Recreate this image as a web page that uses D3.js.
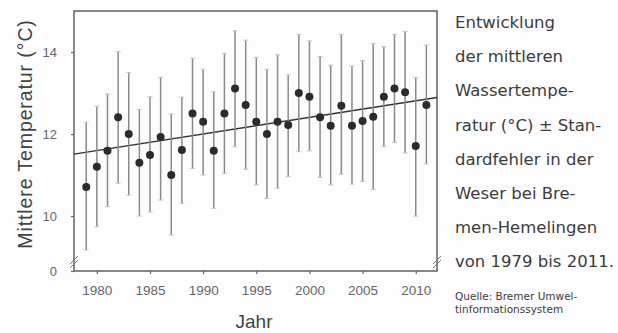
<!DOCTYPE html>
<html>
<head>
<meta charset="utf-8">
<script src="https://cdn.jsdelivr.net/npm/d3@7"></script>
<style>
  html, body { margin: 0; padding: 0; background: #fdfdfd; }
  svg { display: block; }
</style>
</head>
<body>
<svg id="chart" width="618" height="333"></svg>
<script>
// ---- data ----
const years = [1979,1980,1981,1982,1983,1984,1985,1986,1987,1988,1989,1990,1991,1992,1993,1994,1995,1996,1997,1998,1999,2000,2001,2002,2003,2004,2005,2006,2007,2008,2009,2010,2011];
const means = [10.71,11.20,11.59,12.41,12.00,11.30,11.49,11.93,11.00,11.61,12.50,12.30,11.59,12.50,13.11,12.71,12.30,12.00,12.30,12.22,13.00,12.91,12.41,12.20,12.69,12.20,12.32,12.42,12.91,13.11,13.02,11.71,12.71];
const upper = [12.29,12.68,12.98,14.01,13.50,12.60,12.91,13.38,12.49,12.90,13.85,13.58,13.03,13.97,14.52,14.29,13.87,13.58,13.93,13.44,14.43,14.27,13.89,13.68,14.43,13.66,13.79,14.21,14.13,14.43,14.50,13.38,14.17];
const lower = [9.17,9.74,10.23,10.80,10.51,10.00,10.10,10.39,9.54,10.31,11.16,11.00,10.19,11.04,11.69,11.14,10.76,10.43,10.68,10.96,11.57,11.59,10.94,10.76,11.02,10.78,10.84,10.65,11.69,11.79,11.54,10.00,11.27];
const trendYears = [1977.85, 2012];
const trendValues = [11.51, 12.89];
const xTicks = [1980,1985,1990,1995,2000,2005,2010];
const yTicks = [0,10,12,14];
const yTitle = "Mittlere Temperatur (°C)";
const xTitle = "Jahr";
const captionLines = ["Entwicklung","der mittleren","Wassertempe-","ratur (°C) ± Stan-","dardfehler in der","Weser bei Bre-","men-Hemelingen","von 1979 bis 2011."];
const sourceLines = ["Quelle: Bremer Umwel-","tinformationssystem"];

// ---- layout ----
const L = 74, R = 437, T = 11, B = 271;
const svg = d3.select("#chart");

const x = d3.scaleLinear().domain([1977.85, 2012]).range([L, R]);
// broken axis: 0 sits at the bottom, linear part from 8.66 to 15
const y = d3.scaleLinear().domain([0, 8.66, 15]).range([B, B, T]);

const data = years.map((yr, i) => ({ yr, m: means[i], hi: upper[i], lo: lower[i] }));

// frame
svg.append("rect")
  .attr("x", L).attr("y", T).attr("width", R - L).attr("height", B - T)
  .attr("fill", "none").attr("stroke", "#555").attr("stroke-width", 1.4);

// axes
const gx = svg.append("g").attr("transform", `translate(0,${B})`)
  .call(d3.axisBottom(x).tickValues(xTicks).tickFormat(d3.format("d")).tickSize(3).tickSizeOuter(0).tickPadding(11));
gx.select(".domain").remove();
gx.selectAll("line").attr("stroke", "#666").attr("stroke-width", 1.2);
gx.selectAll("text").attr("fill", "#666").style("font-family", "Liberation Sans, Arial, sans-serif").style("font-size", "13.5px");

const gy = svg.append("g").attr("transform", `translate(${L},0)`)
  .call(d3.axisLeft(y).tickValues(yTicks).tickFormat(d3.format("d")).tickSize(3).tickSizeOuter(0).tickPadding(14));
gy.select(".domain").remove();
gy.selectAll("line").attr("stroke", "#666").attr("stroke-width", 1.2);
gy.selectAll("text").attr("fill", "#666").style("font-family", "Liberation Sans, Arial, sans-serif").style("font-size", "13px");

// axis break marks
const brk = svg.append("g").attr("stroke", "#777").attr("stroke-width", 1);
[[L, 262], [R, 262]].forEach(([bx, by]) => {
  [-2, 2].forEach(off => {
    brk.append("line").attr("x1", bx - 4).attr("y1", by + off + 4).attr("x2", bx + 4).attr("y2", by + off - 4);
  });
});

// trend line
svg.append("line")
  .attr("x1", x(trendYears[0])).attr("y1", y(trendValues[0]))
  .attr("x2", x(trendYears[1])).attr("y2", y(trendValues[1]))
  .attr("stroke", "#333").attr("stroke-width", 1.4);

// error bars
const eb = svg.append("g");
eb.selectAll("line.bar").data(data).join("line").attr("class", "bar")
  .attr("x1", d => x(d.yr)).attr("x2", d => x(d.yr))
  .attr("y1", d => y(d.hi)).attr("y2", d => y(d.lo))
  .attr("stroke", "#8a8a8a").attr("stroke-width", 1.5);
["hi", "lo"].forEach(k => {
  eb.selectAll("line.cap-" + k).data(data).join("line").attr("class", "cap-" + k)
    .attr("x1", d => x(d.yr) - 2.5).attr("x2", d => x(d.yr) + 2.5)
    .attr("y1", d => y(d[k])).attr("y2", d => y(d[k]))
    .attr("stroke", "#c4c4c4").attr("stroke-width", 1);
});

// points
svg.append("g").selectAll("circle").data(data).join("circle")
  .attr("cx", d => x(d.yr)).attr("cy", d => y(d.m)).attr("r", 4)
  .attr("fill", "#2b2b2b");

// titles
svg.append("text").attr("x", 254).attr("y", 328).attr("text-anchor", "middle")
  .attr("fill", "#444").style("font-family", "Liberation Sans, Arial, sans-serif").style("font-size", "19px")
  .text(xTitle);
svg.append("text").attr("transform", "translate(32,134) rotate(-90)").attr("text-anchor", "middle")
  .attr("fill", "#444").style("font-family", "Liberation Sans, Arial, sans-serif").style("font-size", "19.5px")
  .style("letter-spacing", "0.9px")
  .text(yTitle);

// caption block
const cap = svg.append("g").attr("fill", "#3c3c3c").style("font-family", "DejaVu Sans, sans-serif");
cap.selectAll("text.c").data(captionLines).join("text").attr("class", "c")
  .attr("x", 455).attr("y", (d, i) => 28 + i * 34.2)
  .style("font-size", "16.5px").text(d => d);
cap.selectAll("text.s").data(sourceLines).join("text").attr("class", "s")
  .attr("x", 455).attr("y", (d, i) => 300 + i * 12.5)
  .style("font-size", "10.5px").text(d => d);
</script>
</body>
</html>
